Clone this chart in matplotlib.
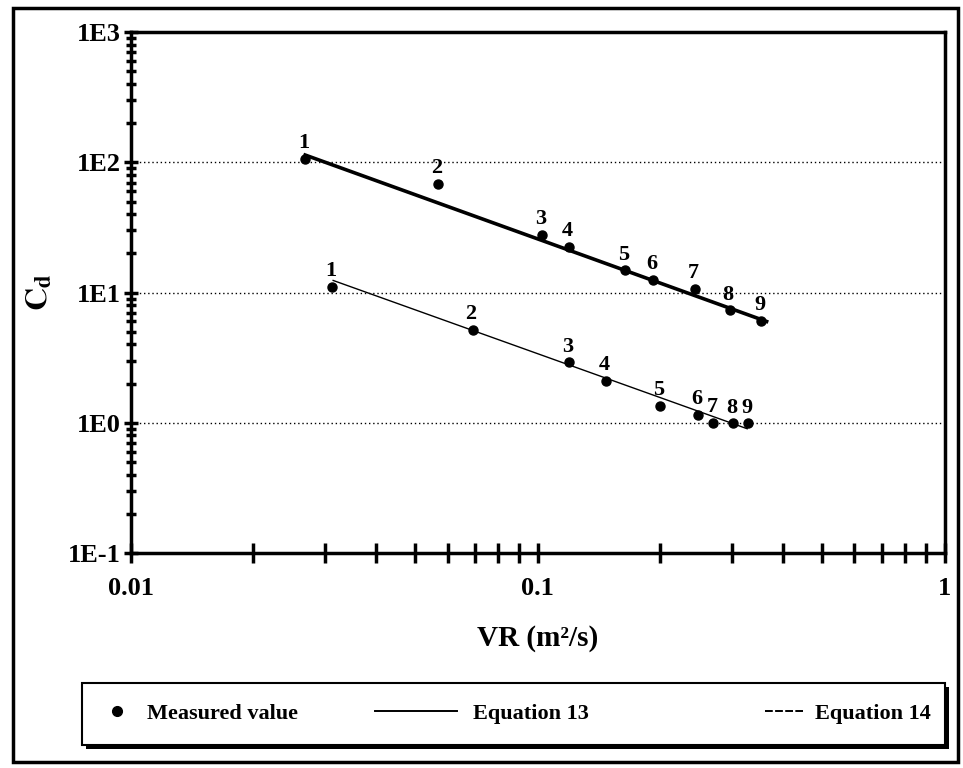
import matplotlib.pyplot as plt
from matplotlib.lines import Line2D
from matplotlib.patches import Rectangle
from matplotlib.ticker import LogLocator, FixedLocator, NullFormatter

plt.rcParams['font.family'] = ['Liberation Serif', 'DejaVu Serif']
plt.rcParams['mathtext.fontset'] = 'stix'

# measured values, upper set
vr_a = [0.0268, 0.0567, 0.1025, 0.119, 0.164, 0.192, 0.243, 0.296, 0.354]
cd_a = [107, 68.5, 27.8, 22.6, 14.9, 12.5, 10.7, 7.3, 6.1]
# measured values, lower set
vr_b = [0.0312, 0.0691, 0.1194, 0.147, 0.1995, 0.248, 0.270, 0.302, 0.329]
cd_b = [11.1, 5.19, 2.91, 2.10, 1.35, 1.15, 1.0, 0.99, 0.99]
point_ids = ['1', '2', '3', '4', '5', '6', '7', '8', '9']

# fitted lines (end points)
line_a_x = [0.0268, 0.365]
line_a_y = [114, 6.0]
line_b_x = [0.0314, 0.327]
line_b_y = [12.4, 0.90]

fig = plt.figure(figsize=(9.63, 7.68), dpi=100)
ax = fig.add_axes([0.136, 0.28, 0.845, 0.678])
ax.set_xscale('log')
ax.set_yscale('log')
ax.set_xlim(0.01, 1)
ax.set_ylim(0.1, 1000)

for y in [1, 10, 100]:
    ax.axhline(y, color='black', lw=1.0, ls=(0, (1, 2)), zorder=1)

ax.plot(line_a_x, line_a_y, color='black', lw=2.6, zorder=2)
ax.plot(line_b_x, line_b_y, color='black', lw=1.0, zorder=2)
ax.plot(vr_a, cd_a, 'o', color='black', ms=6.5, zorder=3)
ax.plot(vr_b, cd_b, 'o', color='black', ms=6.5, zorder=3)

for x, y, s in zip(vr_a, cd_a, point_ids):
    ax.annotate(s, (x, y), xytext=(-1, 4), textcoords='offset points',
                ha='center', va='bottom', fontsize=16, fontweight='bold')
for x, y, s in zip(vr_b, cd_b, point_ids):
    ax.annotate(s, (x, y), xytext=(-1, 4), textcoords='offset points',
                ha='center', va='bottom', fontsize=16, fontweight='bold')

for sp in ax.spines.values():
    sp.set_linewidth(2.5)

ax.yaxis.set_major_locator(FixedLocator([0.1, 1, 10, 100, 1000]))
ax.set_yticklabels(['1E-1', '1E0', '1E1', '1E2', '1E3'])
ax.yaxis.set_minor_locator(LogLocator(base=10, subs=range(2, 10), numticks=20))
ax.yaxis.set_minor_formatter(NullFormatter())
ax.xaxis.set_major_locator(FixedLocator([0.01, 0.1, 1]))
ax.set_xticklabels(['0.01', '0.1', '1'])
ax.xaxis.set_minor_locator(LogLocator(base=10, subs=range(2, 10), numticks=20))
ax.xaxis.set_minor_formatter(NullFormatter())

ax.tick_params(axis='y', which='major', direction='inout', length=10, width=2.5,
               labelsize=19, pad=2, right=False)
ax.tick_params(axis='y', which='minor', direction='inout', length=7, width=2.5, right=False)
ax.tick_params(axis='x', which='major', direction='inout', length=14, width=2.5,
               labelsize=19, pad=10, top=False)
ax.tick_params(axis='x', which='minor', direction='inout', length=14, width=2.5, top=False)
for lab in ax.get_xticklabels() + ax.get_yticklabels():
    lab.set_fontweight('bold')

ax.set_xlabel('VR (m²/s)', fontsize=21, fontweight='bold', labelpad=18)
ax.set_ylabel(r'$\mathbf{C}_\mathbf{d}$', fontsize=23, labelpad=10)

# legend: framed strip along the bottom with a drop shadow
fig.patches.append(Rectangle((0.089, 0.025), 0.896, 0.081, transform=fig.transFigure,
                             facecolor='black', edgecolor='black', lw=0, zorder=1))
fig.patches.append(Rectangle((0.085, 0.030), 0.896, 0.081, transform=fig.transFigure,
                             facecolor='white', edgecolor='black', lw=1.5, zorder=2))

leg_font = {'family': 'Liberation Serif', 'weight': 'bold', 'size': 16}
leg_items = [
    (Line2D([], [], marker='o', color='black', ls='none', ms=7), 'Measured value', 0.8, 0.95, 0.1121),
    (Line2D([], [], color='black', lw=1.4), 'Equation 13', 3.7, 0.72, 0.3894),
    (Line2D([], [], color='black', lw=1.4, ls=(0, (4, 1.2))), 'Equation 14', 1.71, 0.54, 0.794),
]
for h, lab, hl, tp, x0 in leg_items:
    fig.legend([h], [lab], loc='center left', bbox_to_anchor=(x0, 0.0705),
               frameon=False, handlelength=hl, handletextpad=tp,
               borderpad=0, borderaxespad=0, prop=leg_font)

fig.patches.append(Rectangle((0.013, 0.008), 0.982, 0.982, transform=fig.transFigure,
                             fill=False, edgecolor='black', lw=2.5))

fig.savefig('out.png', dpi=100)
